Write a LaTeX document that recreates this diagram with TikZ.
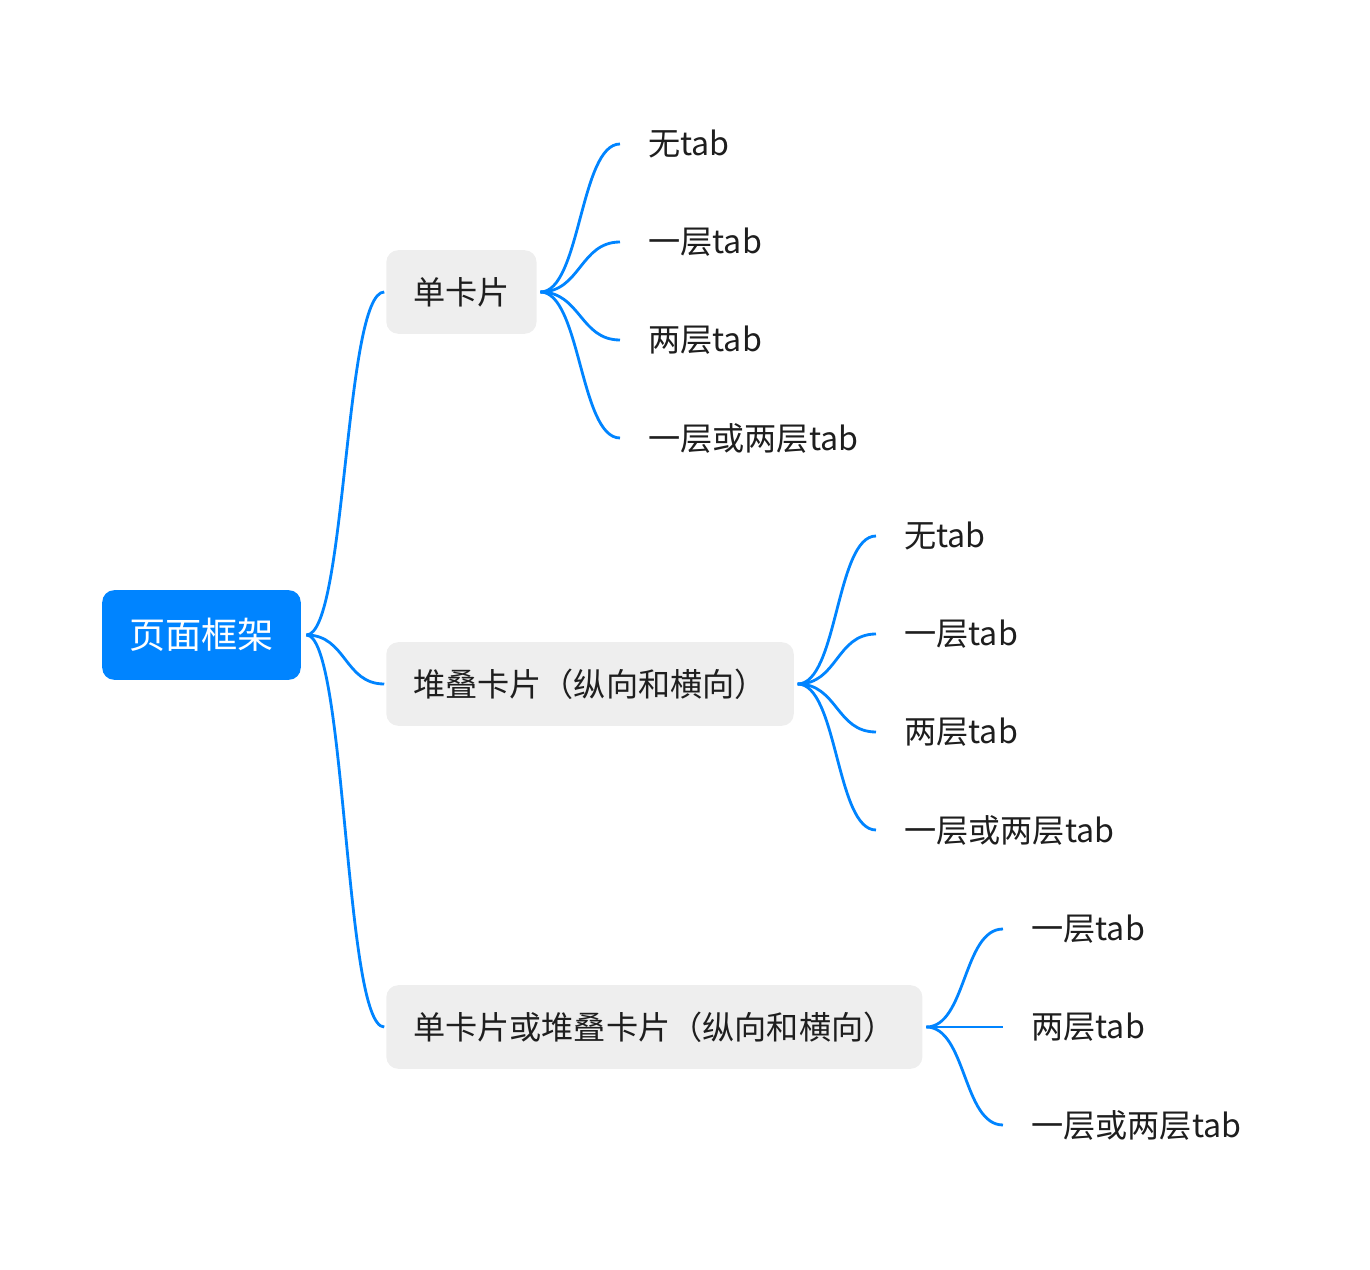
\documentclass[tikz,border=0pt]{standalone}
\usepackage{fontspec}
\setmainfont{Noto Sans CJK SC}
\definecolor{linkblue}{RGB}{0,132,255}
\definecolor{boxgray}{RGB}{238,238,238}
\definecolor{ink}{RGB}{30,30,30}

\begin{document}
\begin{tikzpicture}[x=0.02cm, y=-0.02cm, font=\fontsize{18.3pt}{22pt}\selectfont, text=ink,
    root/.style={fill=linkblue, text=white, rounded corners=6.8pt, minimum height=51pt, inner xsep=15.3pt, font=\fontsize{20.6pt}{24pt}\selectfont},
    card/.style={fill=boxgray, rounded corners=6.8pt, minimum height=47.6pt, inner xsep=15.3pt, anchor=west},
    leaf/.style={anchor=west, inner xsep=15.9pt},
    branch/.style={draw=linkblue, line width=1.6pt, to path={.. controls ([xshift=0.8cm]\tikztostart) and ([xshift=-0.8cm]\tikztotarget) .. (\tikztotarget)}}]
    \useasboundingbox (0, 0) rectangle (1370, 1270);

    \node (root) [root] at (201.5, 635) {页面框架};

    \node (single) [card] at (386, 292) {单卡片};
    \node (stack) [card] at (386, 684) {堆叠卡片（纵向和横向）};
    \node (either) [card] at (386, 1027) {单卡片或堆叠卡片（纵向和横向）};

    \node (single-none) [leaf] at (620, 144) {无tab};
    \node (single-one) [leaf] at (620, 242) {一层tab};
    \node (single-two) [leaf] at (620, 340) {两层tab};
    \node (single-any) [leaf] at (620, 438) {一层或两层tab};

    \node (stack-none) [leaf] at (876, 536) {无tab};
    \node (stack-one) [leaf] at (876, 634) {一层tab};
    \node (stack-two) [leaf] at (876, 732) {两层tab};
    \node (stack-any) [leaf] at (876, 830) {一层或两层tab};

    \node (either-one) [leaf] at (1003, 929) {一层tab};
    \node (either-two) [leaf] at (1003, 1027) {两层tab};
    \node (either-any) [leaf] at (1003, 1125) {一层或两层tab};

    \draw[branch] ([xshift=3pt]root.east) to ([xshift=-1pt]single.west);
    \draw[branch] ([xshift=3pt]root.east) to ([xshift=-1pt]stack.west);
    \draw[branch] ([xshift=3pt]root.east) to ([xshift=-1pt]either.west);

    \draw[branch] ([xshift=2pt]single.east) to (single-none.west);
    \draw[branch] ([xshift=2pt]single.east) to (single-one.west);
    \draw[branch] ([xshift=2pt]single.east) to (single-two.west);
    \draw[branch] ([xshift=2pt]single.east) to (single-any.west);

    \draw[branch] ([xshift=2pt]stack.east) to (stack-none.west);
    \draw[branch] ([xshift=2pt]stack.east) to (stack-one.west);
    \draw[branch] ([xshift=2pt]stack.east) to (stack-two.west);
    \draw[branch] ([xshift=2pt]stack.east) to (stack-any.west);

    \draw[branch] ([xshift=2pt]either.east) to (either-one.west);
    \draw[branch] ([xshift=2pt]either.east) to (either-two.west);
    \draw[branch] ([xshift=2pt]either.east) to (either-any.west);
\end{tikzpicture}
\end{document}
